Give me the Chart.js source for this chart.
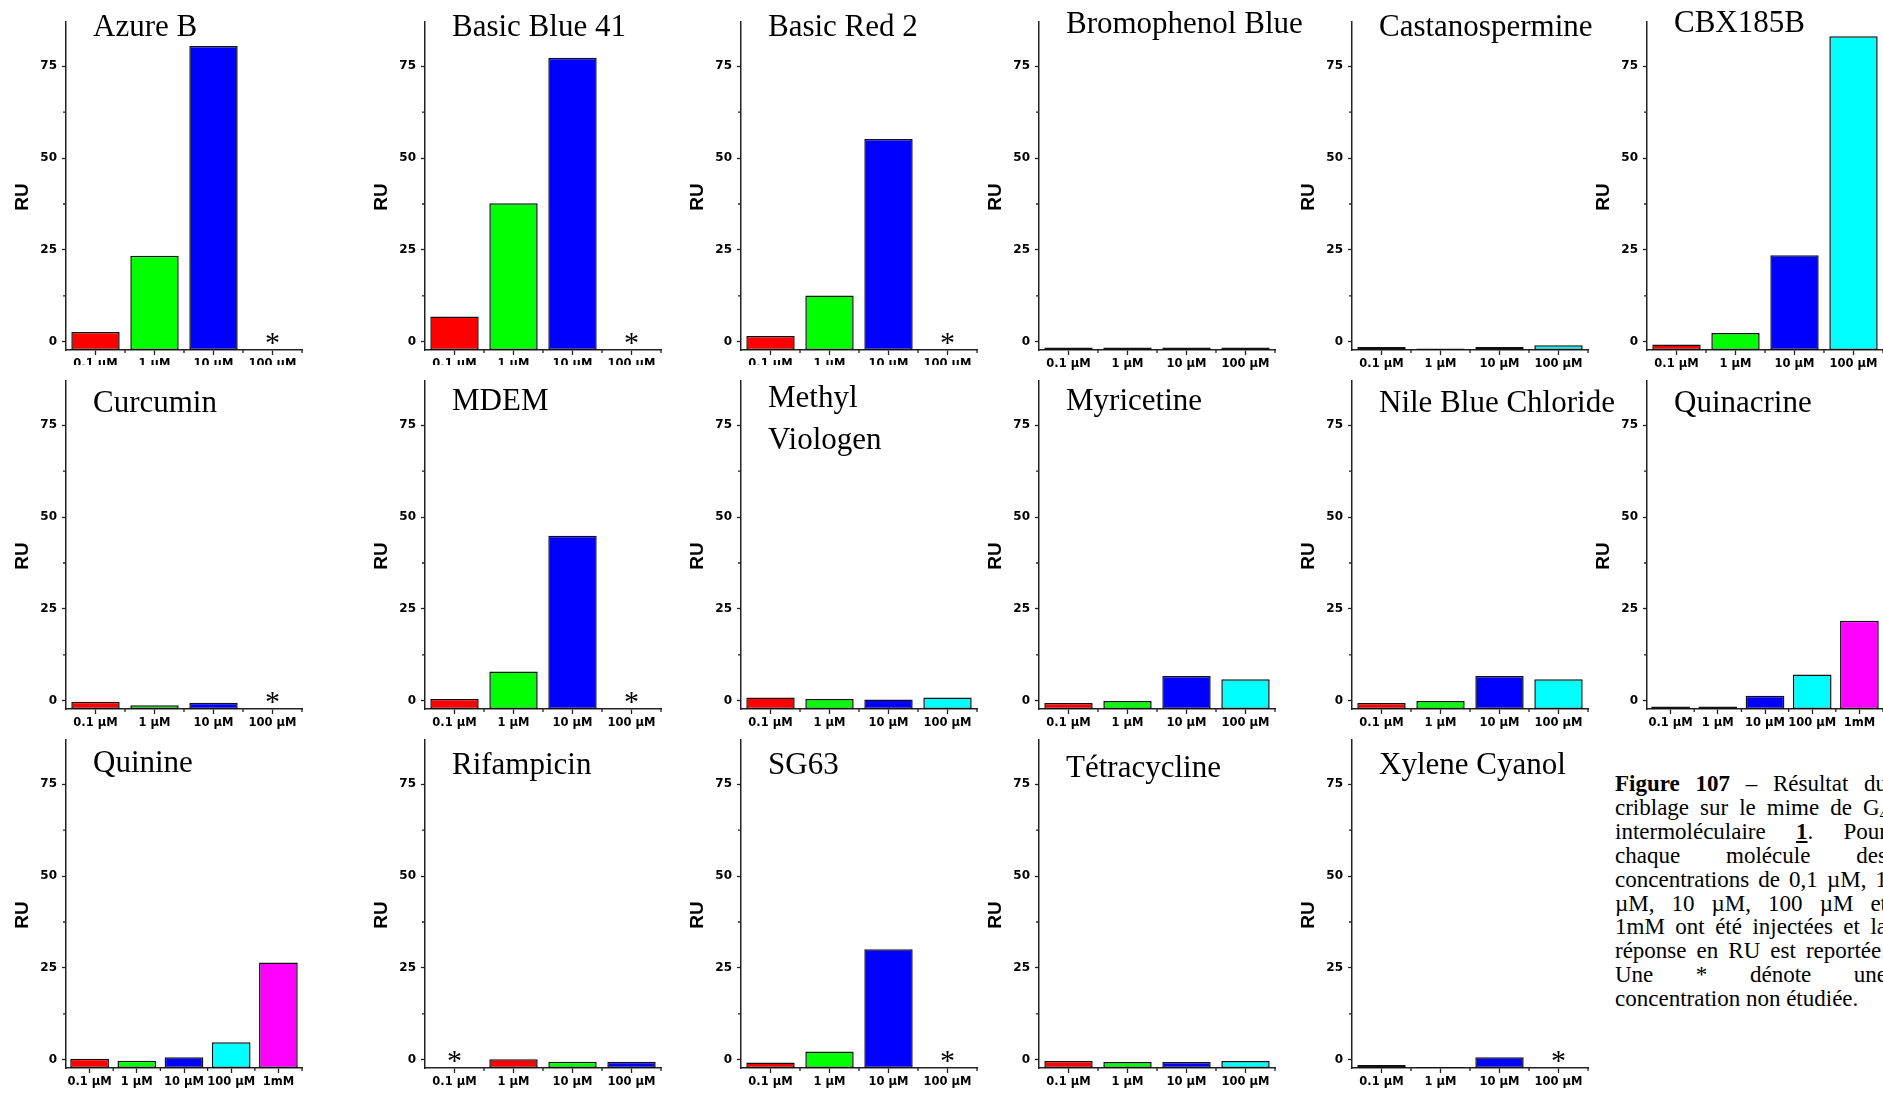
<!DOCTYPE html>
<html>
<head>
<meta charset="utf-8">
<script src="https://cdn.jsdelivr.net/npm/chart.js@4.4.0/dist/chart.umd.min.js"></script>
<style>
    html, body { margin: 0; padding: 0; background: #fff; }
    body { width: 1883px; height: 1093px; position: relative; overflow: hidden; }
    .panel { position: absolute; overflow: hidden; }
    .caption {
        position: absolute; left: 1615px; top: 772px; width: 272px;
        font-family: "Liberation Serif", "Times New Roman", serif;
        font-size: 23px; line-height: 23.9px; color: #000;
    }
    .caption div { text-align: justify; text-align-last: justify; }
    .caption div.last { text-align-last: left; }
    .caption sub { font-size: 15px; line-height: 0; vertical-align: -4px; }
</style>
</head>
<body>

<div class="caption">
    <div><b>Figure 107</b> – Résultat du</div>
    <div>criblage sur le mime de G<sub>4</sub></div>
    <div>intermoléculaire <b><u>1</u></b>. Pour</div>
    <div>chaque molécule des</div>
    <div>concentrations de 0,1 µM, 1</div>
    <div>µM, 10 µM, 100 µM et</div>
    <div>1mM ont été injectées et la</div>
    <div>réponse en RU est reportée.</div>
    <div>Une * dénote une</div>
    <div class="last">concentration non étudiée.</div>
</div>

<script>
// concentrations (x categories)
const concentrations = ['0.1 µM', '1 µM', '10 µM', '100 µM'];
const concentrationsMM = ['0.1 µM', '1 µM', '10 µM', '100 µM', '1mM'];
const yTicks = [0, 25, 50, 75];
const yMinorTicks = [12.5, 37.5, 62.5];

const barColors = ['#ff0000', '#00ff00', '#0000ff', '#00ffff', '#ff00ff'];
const rifampicinColors = ['#ff0000', '#ff0000', '#00ff00', '#0000ff'];

// réponse en RU, null = concentration non étudiée (*)
const azureB = [2.7, 23.4, 80.5, null];
const basicBlue41 = [6.9, 37.7, 77.3, null];
const basicRed2 = [1.6, 12.6, 55.2, null];
const bromophenolBlue = [-1.5, -1.5, -1.5, -1.5];
const castanospermine = [-1.4, -1.8, -1.4, -0.9];
const cbx185b = [-0.7, 2.4, 23.6, 83.1];
const curcumin = [-0.2, -1.2, -0.5, null];
const mdem = [0.5, 8.0, 44.9, null];
const methylViologen = [0.9, 0.5, 0.4, 0.9];
const myricetine = [-0.6, 0.0, 6.8, 5.9];
const nileBlueChloride = [-0.6, 0.0, 6.8, 5.9];
const quinacrine = [-1.5, -1.5, 1.4, 7.2, 21.8];
const quinine = [0.3, -0.2, 0.7, 4.8, 26.5];
const rifampicin = [null, 0.2, -0.5, -0.5];
const sg63 = [-0.7, 2.3, 30.1, null];
const tetracycline = [-0.3, -0.6, -0.6, -0.3];
const xyleneCyanol = [-1.4, -1.9, 0.7, null];

const Y_MIN = -2.2;
const Y_MAX = 87;

// mise en page
const colAxisX = [66, 425, 741, 1039, 1352, 1647];
const rowTop = [22, 381, 740];
const titleOffset = [14, 31, 34];
const PLOT_W = 236, PLOT_H = 328, AXIS_W = 66, PAD_TOP = 22, X_AXIS_H = 30;
const CANVAS_W = 360, CANVAS_H = PAD_TOP + PLOT_H + X_AXIS_H;

const panels = [
    { title: ['Azure B'], data: azureB, labels: concentrations, row: 0, col: 0, clip: 365 },
    { title: ['Basic Blue 41'], data: basicBlue41, labels: concentrations, row: 0, col: 1, clip: 365 },
    { title: ['Basic Red 2'], data: basicRed2, labels: concentrations, row: 0, col: 2, clip: 365 },
    { title: ['Bromophenol Blue'], data: bromophenolBlue, labels: concentrations, row: 0, col: 3, dy: -3 },
    { title: ['Castanospermine'], data: castanospermine, labels: concentrations, row: 0, col: 4 },
    { title: ['CBX185B'], data: cbx185b, labels: concentrations, row: 0, col: 5, dy: -4 },
    { title: ['Curcumin'], data: curcumin, labels: concentrations, row: 1, col: 0 },
    { title: ['MDEM'], data: mdem, labels: concentrations, row: 1, col: 1, dy: -2 },
    { title: ['Methyl', 'Viologen'], data: methylViologen, labels: concentrations, row: 1, col: 2, dy: -5 },
    { title: ['Myricetine'], data: myricetine, labels: concentrations, row: 1, col: 3, dy: -2 },
    { title: ['Nile Blue Chloride'], data: nileBlueChloride, labels: concentrations, row: 1, col: 4 },
    { title: ['Quinacrine'], data: quinacrine, labels: concentrationsMM, row: 1, col: 5 },
    { title: ['Quinine'], data: quinine, labels: concentrationsMM, row: 2, col: 0, dy: -2 },
    { title: ['Rifampicin'], data: rifampicin, labels: concentrations, row: 2, col: 1, colors: rifampicinColors },
    { title: ['SG63'], data: sg63, labels: concentrations, row: 2, col: 2 },
    { title: ['Tétracycline'], data: tetracycline, labels: concentrations, row: 2, col: 3, dy: 3 },
    { title: ['Xylene Cyanol'], data: xyleneCyanol, labels: concentrations, row: 2, col: 4 }
];

// titre, "RU", petites graduations et astérisques
const decor = {
    id: 'decor',
    afterDraw(chart, args, opts) {
        const { ctx, chartArea } = chart;
        const x = chart.scales.x, y = chart.scales.y;
        const n = chart.data.labels.length;
        ctx.save();

        ctx.strokeStyle = '#222';
        ctx.lineWidth = 1.3;
        ctx.beginPath();
        yMinorTicks.forEach(v => {
            const py = y.getPixelForValue(v);
            ctx.moveTo(chartArea.left, py);
            ctx.lineTo(chartArea.left - 3, py);
        });
        for (let i = 1; i <= n; i++) {
            const px = x.getPixelForValue(i - 0.5);
            ctx.moveTo(px, chartArea.bottom);
            ctx.lineTo(px, chartArea.bottom + 3);
        }
        ctx.stroke();

        ctx.fillStyle = '#000';
        ctx.font = '31px "Liberation Serif", "Times New Roman", serif';
        ctx.textAlign = 'left';
        ctx.textBaseline = 'alphabetic';
        opts.title.forEach((line, k) => {
            ctx.fillText(line, chartArea.left + 27, chartArea.top + opts.titleY + k * 42);
        });

        ctx.save();
        ctx.translate(chartArea.left - 43, (chartArea.top + chartArea.bottom) / 2 + 11);
        ctx.rotate(-Math.PI / 2);
        ctx.font = 'bold 19px "Liberation Sans", Arial, sans-serif';
        ctx.textAlign = 'center';
        ctx.textBaseline = 'middle';
        ctx.fillText('RU', 0, 0);
        ctx.restore();

        ctx.font = '30px "Liberation Serif", "Times New Roman", serif';
        ctx.textAlign = 'center';
        const m = ctx.measureText('*');
        chart.data.datasets[0].data.forEach((v, i) => {
            if (v !== null) return;
            const px = x.getPixelForValue(i);
            const py = y.getPixelForValue(0.8);
            ctx.fillText('*', px, py + (m.actualBoundingBoxAscent - m.actualBoundingBoxDescent) / 2);
        });

        ctx.restore();
    }
};

panels.forEach(p => {
    const wrap = document.createElement('div');
    wrap.className = 'panel';
    wrap.style.left = (colAxisX[p.col] - AXIS_W) + 'px';
    wrap.style.top = (rowTop[p.row] - PAD_TOP) + 'px';
    wrap.style.width = CANVAS_W + 'px';
    wrap.style.height = (p.clip || CANVAS_H) + 'px';
    const canvas = document.createElement('canvas');
    canvas.width = CANVAS_W;
    canvas.height = CANVAS_H;
    canvas.style.width = CANVAS_W + 'px';
    canvas.style.height = CANVAS_H + 'px';
    wrap.appendChild(canvas);
    document.body.appendChild(wrap);

    new Chart(canvas, {
        type: 'bar',
        data: {
            labels: p.labels,
            datasets: [{
                data: p.data,
                base: Y_MIN,
                backgroundColor: p.colors || barColors,
                borderColor: '#111',
                borderWidth: 1.5,
                borderSkipped: false,
                categoryPercentage: 1,
                barPercentage: 0.82
            }]
        },
        options: {
            responsive: false,
            devicePixelRatio: 1,
            animation: false,
            layout: { padding: { top: PAD_TOP, left: 0, right: CANVAS_W - AXIS_W - PLOT_W, bottom: 0 } },
            plugins: {
                legend: { display: false },
                tooltip: { enabled: false },
                decor: { title: p.title, titleY: titleOffset[p.row] + (p.dy || 0) }
            },
            scales: {
                x: {
                    type: 'category',
                    offset: true,
                    afterFit: s => { s.height = X_AXIS_H; },
                    border: { display: true, color: '#222', width: 1.5 },
                    grid: { display: true, offset: false, drawOnChartArea: false, tickLength: 5, tickColor: '#222', tickWidth: 1.3 },
                    ticks: {
                        autoSkip: false, maxRotation: 0, minRotation: 0, padding: 2, color: '#000',
                        font: { family: '"DejaVu Sans", sans-serif', weight: 'bold', size: 11.5 }
                    }
                },
                y: {
                    min: Y_MIN,
                    max: Y_MAX,
                    afterFit: s => { s.width = AXIS_W; },
                    afterBuildTicks: s => { s.ticks = yTicks.map(v => ({ value: v })); },
                    border: { display: true, color: '#222', width: 1.5 },
                    grid: { display: true, drawOnChartArea: false, tickLength: 4, tickColor: '#222', tickWidth: 1.3 },
                    ticks: {
                        padding: 5, color: '#000',
                        font: { family: '"DejaVu Sans", sans-serif', weight: 'bold', size: 12 }
                    }
                }
            }
        },
        plugins: [decor]
    });
});
</script>
</body>
</html>
